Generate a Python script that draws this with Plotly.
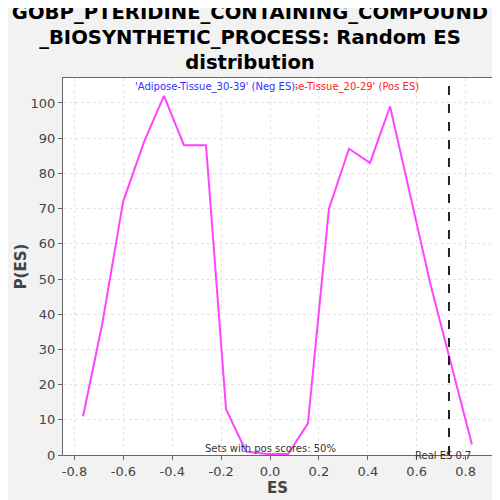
import plotly.graph_objects as go

es = [-0.765, -0.687, -0.601, -0.515, -0.434, -0.352, -0.262, -0.180, -0.098, -0.012,
      0.074, 0.155, 0.241, 0.323, 0.409, 0.491, 0.658, 0.826]
pes = [11, 37, 72, 89, 102, 88, 88, 13, 1, 0.3, 0.3, 9, 70, 87, 83, 99, 48, 3]
real_es = 0.732
x_ticks = [-0.8, -0.6, -0.4, -0.2, 0.0, 0.2, 0.4, 0.6, 0.8]
x_tick_labels = ["-0.8", "-0.6", "-0.4", "-0.2", "0.0", "0.2", "0.4", "0.6", "0.8"]
y_ticks = [0, 10, 20, 30, 40, 50, 60, 70, 80, 90, 100]

fig = go.Figure()
fig.add_trace(go.Scatter(x=es, y=pes, mode="lines",
                         line=dict(color="#ff44ff", width=2), showlegend=False))
fig.add_shape(type="line", x0=real_es, x1=real_es, y0=0, y1=1, yref="paper",
              line=dict(color="#222222", width=2, dash="dash"))

fig.add_annotation(x=0.646, y=0.977, xref="paper", yref="paper",
                   text="'Adipose-Tissue_20-29' (Pos ES)", showarrow=False,
                   font=dict(family="DejaVu Sans", size=10, color="#ff2020"),
                   xanchor="center", yanchor="middle")
fig.add_annotation(x=0.354, y=0.977, xref="paper", yref="paper",
                   text="'Adipose-Tissue_30-39' (Neg ES)", showarrow=False,
                   font=dict(family="DejaVu Sans", size=10, color="#3030ff"),
                   bgcolor="white", borderpad=0,
                   xanchor="center", yanchor="middle")
fig.add_annotation(x=0.0, y=0.016, xref="x", yref="paper",
                   text="Sets with pos scores: 50%", showarrow=False,
                   font=dict(family="DejaVu Sans", size=10, color="#333333"),
                   xanchor="center", yanchor="middle")
fig.add_annotation(x=real_es, y=-0.002, xref="x", yref="paper", xshift=-6,
                   text="Real ES 0.7", showarrow=False,
                   font=dict(family="DejaVu Sans", size=10, color="#333333"),
                   xanchor="center", yanchor="middle")

fig.update_layout(
    width=500, height=500,
    paper_bgcolor="#f2f2f2", plot_bgcolor="white",
    margin=dict(l=55, r=16, t=70, b=53, autoexpand=False),
    title=dict(text="<b>GOBP_PTERIDINE_CONTAINING_COMPOUND<br>_BIOSYNTHETIC_PROCESS: Random ES<br>distribution</b>",
               x=0.484, xanchor="center", y=0.979, yanchor="top", yref="container",
               font=dict(family="DejaVu Sans", size=19.6, color="black")),
    font=dict(family="DejaVu Sans"),
)
fig.update_xaxes(range=[-0.847, 0.908], tickvals=x_ticks, ticktext=x_tick_labels,
                 showgrid=True, gridcolor="#e4e4e4", griddash="3px,3px",
                 showline=True, linecolor="#666666", mirror=True, linewidth=1,
                 ticks="outside", ticklen=4, tickcolor="#666666", automargin=False,
                 tickfont=dict(size=13, color="#444444"), zeroline=False,
                 title=dict(text="<b>ES</b>", font=dict(size=15, color="#444444"), standoff=0))
fig.update_yaxes(range=[0, 107.1], tickvals=y_ticks,
                 showgrid=True, gridcolor="#e4e4e4", griddash="3px,3px",
                 showline=True, linecolor="#666666", mirror=True, linewidth=1,
                 ticks="outside", ticklen=4, tickcolor="#666666", automargin=False,
                 tickfont=dict(size=13, color="#444444"), zeroline=False,
                 title=dict(text="<b>P(ES)</b>", font=dict(size=15, color="#444444"), standoff=0))

fig.write_html("out.html")
